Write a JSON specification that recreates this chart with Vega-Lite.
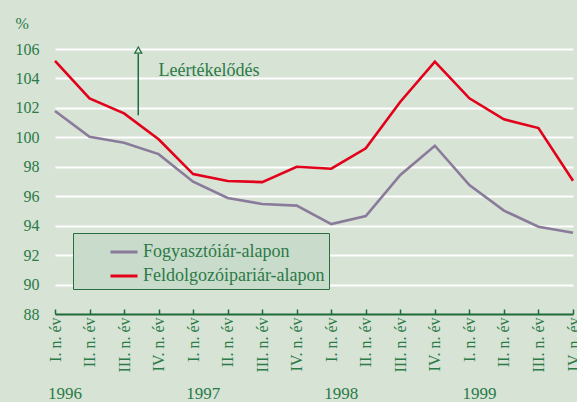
{
  "$schema": "https://vega.github.io/schema/vega-lite/v6.json",
  "width": 528,
  "height": 265,
  "autosize": "none",
  "padding": {"left": 45, "top": 49, "right": 4, "bottom": 88},
  "background": "#d6e3d5",
  "config": {
    "view": {"stroke": null},
    "font": "Liberation Serif",
    "axisY": {
      "labelFont": "Liberation Serif",
      "labelFontSize": 16,
      "labelColor": "#2b7a47",
      "labelPadding": 6,
      "labelOverlap": false,
      "labelFlush": false,
      "domain": false,
      "ticks": false,
      "grid": true,
      "gridColor": "#ffffff",
      "gridWidth": 2,
      "titleFont": "Liberation Serif",
      "titleFontSize": 16,
      "titleFontWeight": "normal",
      "titleColor": "#2b7a47",
      "titleAngle": 0,
      "titleAlign": "left",
      "titleBaseline": "alphabetic",
      "titleX": -30,
      "titleY": -21
    },
    "axisX": {
      "labelFont": "Liberation Serif",
      "labelFontSize": 16,
      "labelColor": "#2b7a47",
      "labelAngle": -90,
      "labelAlign": "right",
      "labelBaseline": "middle",
      "labelPadding": 8,
      "labelOverlap": false,
      "labelFlush": false,
      "domainColor": "#1f6b3a",
      "domainWidth": 2,
      "tickColor": "#1f6b3a",
      "tickSize": -5,
      "tickWidth": 1.5,
      "grid": false
    }
  },
  "datasets": {
    "main": [
      {"period": "1996 I", "series": "Fogyasztóiár-alapon", "value": 101.79},
      {"period": "1996 II", "series": "Fogyasztóiár-alapon", "value": 100.04},
      {"period": "1996 III", "series": "Fogyasztóiár-alapon", "value": 99.63},
      {"period": "1996 IV", "series": "Fogyasztóiár-alapon", "value": 98.86},
      {"period": "1997 I", "series": "Fogyasztóiár-alapon", "value": 96.99},
      {"period": "1997 II", "series": "Fogyasztóiár-alapon", "value": 95.88},
      {"period": "1997 III", "series": "Fogyasztóiár-alapon", "value": 95.47},
      {"period": "1997 IV", "series": "Fogyasztóiár-alapon", "value": 95.36},
      {"period": "1998 I", "series": "Fogyasztóiár-alapon", "value": 94.11},
      {"period": "1998 II", "series": "Fogyasztóiár-alapon", "value": 94.65},
      {"period": "1998 III", "series": "Fogyasztóiár-alapon", "value": 97.44},
      {"period": "1998 IV", "series": "Fogyasztóiár-alapon", "value": 99.43},
      {"period": "1999 I", "series": "Fogyasztóiár-alapon", "value": 96.76},
      {"period": "1999 II", "series": "Fogyasztóiár-alapon", "value": 95.02},
      {"period": "1999 III", "series": "Fogyasztóiár-alapon", "value": 93.93},
      {"period": "1999 IV", "series": "Fogyasztóiár-alapon", "value": 93.52},
      {"period": "1996 I", "series": "Feldolgozóipariár-alapon", "value": 105.2},
      {"period": "1996 II", "series": "Feldolgozóipariár-alapon", "value": 102.65},
      {"period": "1996 III", "series": "Feldolgozóipariár-alapon", "value": 101.63},
      {"period": "1996 IV", "series": "Feldolgozóipariár-alapon", "value": 99.87},
      {"period": "1997 I", "series": "Feldolgozóipariár-alapon", "value": 97.5},
      {"period": "1997 II", "series": "Feldolgozóipariár-alapon", "value": 97.03},
      {"period": "1997 III", "series": "Feldolgozóipariár-alapon", "value": 96.96},
      {"period": "1997 IV", "series": "Feldolgozóipariár-alapon", "value": 98.0},
      {"period": "1998 I", "series": "Feldolgozóipariár-alapon", "value": 97.87},
      {"period": "1998 II", "series": "Feldolgozóipariár-alapon", "value": 99.25},
      {"period": "1998 III", "series": "Feldolgozóipariár-alapon", "value": 102.42},
      {"period": "1998 IV", "series": "Feldolgozóipariár-alapon", "value": 105.14},
      {"period": "1999 I", "series": "Feldolgozóipariár-alapon", "value": 102.65},
      {"period": "1999 II", "series": "Feldolgozóipariár-alapon", "value": 101.22},
      {"period": "1999 III", "series": "Feldolgozóipariár-alapon", "value": 100.63},
      {"period": "1999 IV", "series": "Feldolgozóipariár-alapon", "value": 97.05}
    ],
    "years": [
      {"period": "1996 I", "year": "1996"},
      {"period": "1997 I", "year": "1997"},
      {"period": "1998 I", "year": "1998"},
      {"period": "1999 I", "year": "1999"}
    ],
    "note": [
      {"period": "1996 III", "labelAt": "1996 IV", "from": 101.5, "to": 105.66, "label": "Leértékelődés"}
    ]
  },
  "layer": [
    {
      "data": {"name": "main"},
      "mark": {"type": "line", "strokeWidth": 2.6},
      "encoding": {
        "x": {
          "field": "period",
          "type": "ordinal",
          "scale": {
            "type": "point",
            "domain": ["1996 I", "1996 II", "1996 III", "1996 IV", "1997 I", "1997 II", "1997 III", "1997 IV", "1998 I", "1998 II", "1998 III", "1998 IV", "1999 I", "1999 II", "1999 III", "1999 IV"],
            "range": [10, 528],
            "padding": 0
          },
          "axis": {
            "title": null,
            "labelExpr": "substring(datum.label, 5) + '. n. év'"
          }
        },
        "y": {
          "field": "value",
          "type": "quantitative",
          "scale": {"domain": [88, 106], "nice": false, "zero": false},
          "axis": {
            "title": "%",
            "values": [88, 90, 92, 94, 96, 98, 100, 102, 104, 106],
            "tickCount": 20,
            "labelOverlap": false,
            "labelFont": "Liberation Serif",
            "labelFontSize": 16,
            "gridOpacity": {"condition": {"test": "datum.value === 88", "value": 0}, "value": 1}
          }
        },
        "color": {
          "field": "series",
          "type": "nominal",
          "scale": {
            "domain": ["Fogyasztóiár-alapon", "Feldolgozóipariár-alapon"],
            "range": ["#8b7b9b", "#e2001a"]
          },
          "legend": {
            "title": null,
            "orient": "none",
            "legendX": 28,
            "legendY": 184,
            "padding": 4,
            "fillColor": "#c9dbca",
            "strokeColor": "#2b6e3e",
            "symbolType": "stroke",
            "symbolSize": 729,
            "symbolStrokeWidth": 3,
            "symbolOffset": 32,
            "labelOffset": 4,
            "labelFont": "Liberation Serif",
            "labelFontSize": 18,
            "labelColor": "#2b7a47",
            "labelLimit": 400,
            "rowPadding": -1
          }
        }
      }
    },
    {
      "data": {"name": "note"},
      "mark": {"type": "rule", "color": "#1f6b3a", "strokeWidth": 1.5, "xOffset": 14.2},
      "encoding": {
        "x": {"field": "period", "type": "ordinal"},
        "y": {"field": "from", "type": "quantitative"},
        "y2": {"field": "to"}
      }
    },
    {
      "data": {"name": "note"},
      "mark": {"type": "point", "shape": "triangle-up", "filled": false, "color": "#1f6b3a", "strokeWidth": 1.2, "size": 50, "opacity": 1, "xOffset": 14.2},
      "encoding": {
        "x": {"field": "period", "type": "ordinal"},
        "y": {"datum": 105.93, "type": "quantitative"}
      }
    },
    {
      "data": {"name": "note"},
      "mark": {"type": "text", "align": "left", "baseline": "alphabetic", "font": "Liberation Serif", "fontSize": 18, "color": "#2b7a47"},
      "encoding": {
        "x": {"field": "labelAt", "type": "ordinal"},
        "y": {"datum": 104.17, "type": "quantitative"},
        "text": {"field": "label"}
      }
    },
    {
      "data": {"name": "years"},
      "mark": {"type": "text", "align": "center", "baseline": "alphabetic", "font": "Liberation Serif", "fontSize": 17, "dx": 10, "color": "#2b7a47"},
      "encoding": {
        "x": {"field": "period", "type": "ordinal"},
        "y": {"datum": 82.2, "type": "quantitative"},
        "text": {"field": "year"}
      }
    }
  ]
}
